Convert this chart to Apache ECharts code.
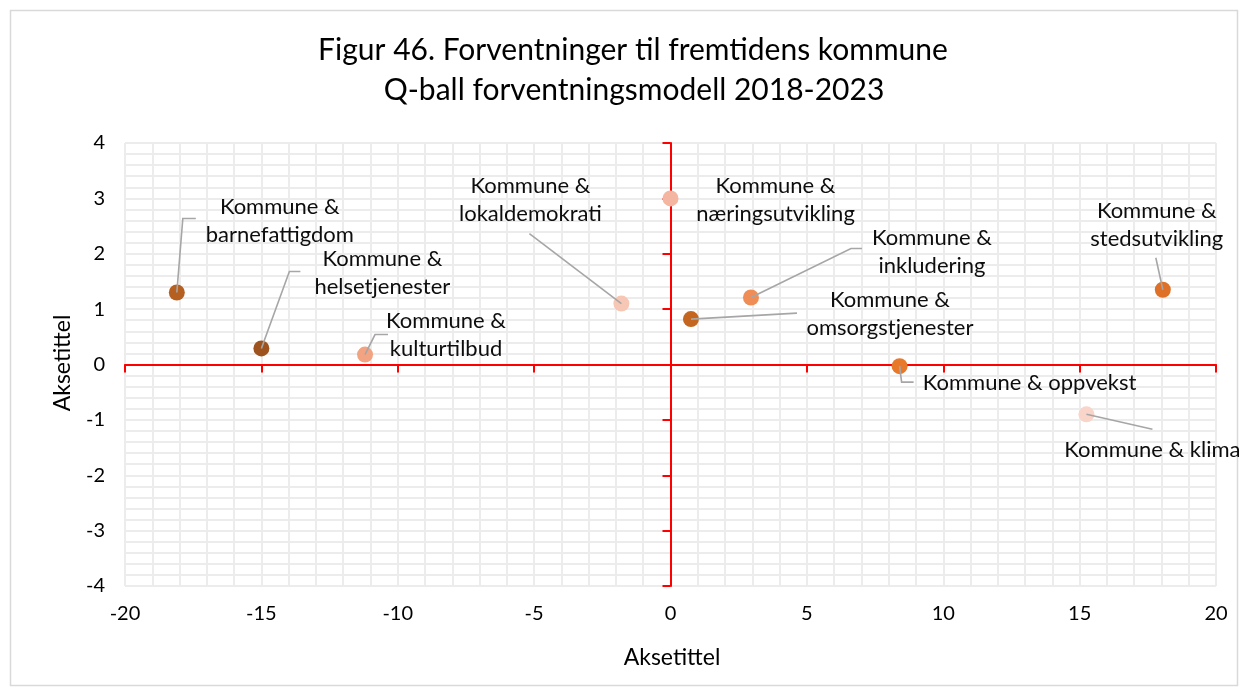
<!DOCTYPE html>
<html>
<head>
<meta charset="utf-8">
<script src="https://cdn.jsdelivr.net/npm/echarts@6/dist/echarts.min.js"></script>
<style>
  html, body { margin: 0; padding: 0; background: #fff; }
  #chart { width: 1247px; height: 695px; }
</style>
</head>
<body>
<div id="chart"></div>
<script>
// Expectation model: each point is one theme of the future municipality
const labels = [
  'Kommune &\nbarnefattigdom',
  'Kommune &\nhelsetjenester',
  'Kommune &\nkulturtilbud',
  'Kommune &\nlokaldemokrati',
  'Kommune &\nnæringsutvikling',
  'Kommune &\ninkludering',
  'Kommune &\nomsorgstjenester',
  'Kommune & oppvekst',
  'Kommune & klima',
  'Kommune &\nstedsutvikling'
];
const xValues = [-18.1, -15.0, -11.2, -1.8, 0.0, 2.95, 0.75, 8.4, 15.25, 18.05];
const yValues = [1.30, 0.29, 0.18, 1.10, 3.0, 1.21, 0.82, -0.03, -0.90, 1.35];
const xTicks = { min: -20, max: 20, step: 5 };
const yTicks = { min: -4, max: 4, step: 1 };

// Styling: dot colours per theme
const dotColors = ['#b55f21', '#9e521d', '#f2a482', '#f7c7b5', '#f4b6a0',
                   '#f08d56', '#c4661f', '#e8792a', '#f8d4c9', '#de7127'];

// Label placement in pixels relative to the dot: text centre and leader-line bends
const labelLayout = [
  { text: [103, -72], line: [[6, -74], [19, -74]] },
  { text: [121, -76], line: [[28, -77], [39, -77]] },
  { text: [81, -20],  line: [[10, -20], [23, -20]] },
  { text: [-91, -104], line: [[-92, -70]] },
  { text: [105, 2],   line: [] },
  { text: [181, -46], line: [[100, -49], [111, -49]] },
  { text: [199, -5],  line: [[106, -6]] },
  { text: [130, 17],  line: [[2, 16], [14, 16]] },
  { text: [66, 36],   line: [[66, 15]] },
  { text: [-6, -65],  line: [[-7, -32]] }
];

const FONT = 'Lato, "Open Sans", sans-serif';
const points = xValues.map((x, i) => [x, yValues[i], i]);

const chart = echarts.init(document.getElementById('chart'), null, { renderer: 'canvas' });

const gridLine = { show: true, lineStyle: { color: '#ececec', width: 2 } };

chart.setOption({
  animation: false,
  backgroundColor: '#ffffff',
  grid: { left: 125, right: 31, top: 143, bottom: 109 },
  xAxis: [
    {
      type: 'value', min: xTicks.min, max: xTicks.max, interval: xTicks.step,
      position: 'bottom',
      axisLine: { show: false, onZero: false },
      axisTick: { show: false },
      axisLabel: { margin: 18, fontSize: 20, color: '#000', fontFamily: FONT },
      splitLine: gridLine,
      minorTick: { show: false, splitNumber: 5 },
      minorSplitLine: gridLine
    },
    {
      type: 'value', min: xTicks.min, max: xTicks.max, interval: xTicks.step,
      position: 'top',
      axisLine: { show: true, onZero: true, onZeroAxisIndex: 0, lineStyle: { color: '#ff0000', width: 2 } },
      axisTick: { show: true, inside: true, length: 8, lineStyle: { color: '#ff0000', width: 2 } },
      axisLabel: { show: false },
      splitLine: { show: false }
    }
  ],
  yAxis: [
    {
      type: 'value', min: yTicks.min, max: yTicks.max, interval: yTicks.step,
      position: 'left',
      axisLine: { show: false, onZero: false },
      axisTick: { show: false },
      axisLabel: { margin: 20, fontSize: 20, color: '#000', fontFamily: FONT },
      splitLine: gridLine,
      minorTick: { show: false, splitNumber: 5 },
      minorSplitLine: gridLine
    },
    {
      type: 'value', min: yTicks.min, max: yTicks.max, interval: yTicks.step,
      position: 'right',
      axisLine: { show: true, onZero: true, onZeroAxisIndex: 0, lineStyle: { color: '#ff0000', width: 2 } },
      axisTick: { show: true, inside: true, length: 8, lineStyle: { color: '#ff0000', width: 2 } },
      axisLabel: { show: false },
      splitLine: { show: false }
    }
  ],
  graphic: [
    {
      type: 'rect', silent: true, z: -10,
      shape: { x: 10.5, y: 10.5, width: 1227, height: 675 },
      style: { fill: 'none', stroke: '#d9d9d9', lineWidth: 1.5 }
    },
    {
      type: 'text', x: 633, y: 50,
      style: { text: 'Figur 46. Forventninger til fremtidens kommune', align: 'center', verticalAlign: 'middle',
               font: '30px ' + FONT, fill: '#000' }
    },
    {
      type: 'text', x: 634, y: 90,
      style: { text: 'Q-ball forventningsmodell 2018-2023', align: 'center', verticalAlign: 'middle',
               font: '30px ' + FONT, fill: '#000' }
    },
    {
      type: 'text', x: 672, y: 658,
      style: { text: 'Aksetittel', align: 'center', verticalAlign: 'middle', font: '23px ' + FONT, fill: '#000' }
    },
    {
      type: 'text', x: 63, y: 363, rotation: Math.PI / 2,
      style: { text: 'Aksetittel', align: 'center', verticalAlign: 'middle', font: '23px ' + FONT, fill: '#000' }
    }
  ],
  series: [
    {
      type: 'scatter',
      xAxisIndex: 0, yAxisIndex: 0,
      symbolSize: 16,
      z: 3,
      data: points.map(p => ({ value: [p[0], p[1]], itemStyle: { color: dotColors[p[2]], opacity: 1 } }))
    },
    {
      // Leader lines and theme names
      type: 'custom',
      xAxisIndex: 0, yAxisIndex: 0,
      z: 4,
      data: points,
      renderItem: function (params, api) {
        const i = api.value(2);
        const c = api.coord([api.value(0), api.value(1)]);
        const lay = labelLayout[i];
        const children = [];
        if (lay.line.length) {
          const pts = [[c[0], c[1]]].concat(lay.line.map(d => [c[0] + d[0], c[1] + d[1]]));
          children.push({
            type: 'polyline',
            shape: { points: pts },
            style: { stroke: '#a6a6a6', lineWidth: 1.6, fill: null }
          });
        }
        children.push({
          type: 'text',
          x: c[0] + lay.text[0], y: c[1] + lay.text[1],
          style: {
            text: labels[i], align: 'center', verticalAlign: 'middle',
            font: '22px ' + FONT, lineHeight: 28, fill: '#0d0d0d'
          }
        });
        return { type: 'group', children: children };
      }
    }
  ]
});
</script>
</body>
</html>
